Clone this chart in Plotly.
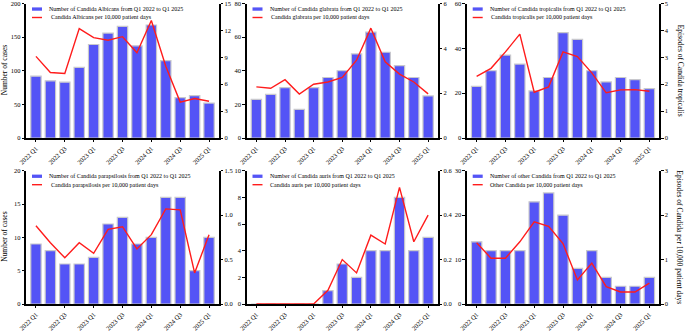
import plotly.graph_objects as go

# ---- data -------------------------------------------------------------
quarters = ["2022 Q1", "2022 Q2", "2022 Q3", "2022 Q4",
            "2023 Q1", "2023 Q2", "2023 Q3", "2023 Q4",
            "2024 Q1", "2024 Q2", "2024 Q3", "2024 Q4",
            "2025 Q1"]
labelled_quarters = ["2022 Q1", "2022 Q3", "2023 Q1", "2023 Q3",
                     "2024 Q1", "2024 Q3", "2025 Q1"]

albicans_cases = [92, 85, 83, 105, 139, 156, 166, 137, 168, 115, 60, 63, 52]
albicans_rate = [9.1, 7.3, 7.2, 12.2, 11.2, 10.9, 11.3, 9.5, 13.1, 8.0, 4.0, 4.4, 4.1]

glabrata_cases = [23, 26, 30, 17, 30, 36, 40, 50, 63, 51, 43, 36, 25]
glabrata_rate = [2.28, 2.22, 2.6, 1.96, 2.4, 2.5, 2.7, 3.47, 4.9, 3.4, 2.85, 2.5, 1.97]

tropicalis_cases = [23, 30, 37, 33, 21, 27, 47, 44, 30, 25, 27, 26, 22]
tropicalis_rate = [2.29, 2.59, 3.2, 3.86, 1.7, 1.9, 3.2, 3.03, 2.42, 1.68, 1.79, 1.8, 1.74]

parapsilosis_cases = [9, 8, 6, 6, 7, 12, 13, 9, 10, 16, 16, 5, 10]
parapsilosis_rate = [0.88, 0.69, 0.52, 0.69, 0.57, 0.84, 0.87, 0.62, 0.78, 1.07, 1.06, 0.35, 0.78]

auris_cases = [0, 0, 0, 0, 0, 1, 3, 2, 4, 4, 8, 4, 5]
auris_rate = [0, 0, 0, 0, 0, 0.062, 0.2, 0.14, 0.31, 0.27, 0.525, 0.28, 0.40]

other_cases = [14, 12, 12, 12, 23, 25, 20, 8, 12, 6, 4, 4, 6]
other_rate = [1.38, 1.03, 1.03, 1.4, 1.85, 1.75, 1.36, 0.54, 0.92, 0.39, 0.27, 0.27, 0.47]

bar_labels = [
    "Number of Candida Albicans from Q1 2022 to Q1 2025",
    "Number of Candida glabrata from Q1 2022 to Q1 2025",
    "Number of Candida tropicalis from Q1 2022 to Q1 2025",
    "Number of Candida parapsilosis from Q1 2022 to Q1 2025",
    "Number of Candida auris from Q1 2022 to Q1 2025",
    "Number of other Candida from Q1 2022 to Q1 2025",
]
line_labels = [
    "Candida Albicans per 10,000 patient days",
    "Candida glabrata per 10,000 patient days",
    "Candida tropicalis per 10,000 patient days",
    "Candida parapsilosis per 10,000 patient days",
    "Candida auris per 10,000 patient days",
    "Other Candida per 10,000 patient days",
]
case_series = [albicans_cases, glabrata_cases, tropicalis_cases,
               parapsilosis_cases, auris_cases, other_cases]
rate_series = [albicans_rate, glabrata_rate, tropicalis_rate,
               parapsilosis_rate, auris_rate, other_rate]

# left axis (cases) and right axis (rate) scales
left_max = [200, 80, 60, 20, 10, 30]
left_step = [50, 20, 20, 5, 2, 10]
right_max = [15, 6, 5, 1.5, 0.6, 3]
right_step = [3, 2, 1, 0.5, 0.2, 1]
right_fmt = ["d", "d", "d", ".1f", ".1f", "d"]

left_title = "Number of cases"
right_titles = {2: "Episodes of Candida tropicalis",
                5: "Episodes of Candida per 10,000 patient days"}

# ---- styling / layout -------------------------------------------------
W, H = 685, 331
FONT = "Liberation Serif, Times New Roman, serif"
BAR_FILL = "rgb(84,84,246)"
BAR_EDGE = "rgb(200,200,205)"
LINE_RED = "rgb(255,28,28)"

col_px = [(26, 219), (246.5, 438), (466.7, 659.3)]
row_px = [(3.5, 138), (170.7, 304)]

fig = go.Figure()
layout = dict(
    width=W, height=H, autosize=False,
    margin=dict(l=0, r=0, t=0, b=0, pad=0),
    paper_bgcolor="white", plot_bgcolor="white",
    template="none", showlegend=False, bargap=0.28,
    font=dict(family=FONT, color="black", size=7),
)
shapes, annotations = [], []

for i in range(6):
    r, c = divmod(i, 3)
    x0p, x1p = col_px[c]
    y0p, y1p = row_px[r]
    pw, ph = x1p - x0p, y1p - y0p

    xn = "" if i == 0 else str(i + 1)
    ln = "" if i == 0 else str(2 * i + 1)
    rn = str(2 * i + 2)
    xref, lref, rref = "x" + xn, "y" + ln, "y" + rn

    fig.add_trace(go.Bar(
        x=quarters, y=case_series[i], name=bar_labels[i],
        xaxis=xref, yaxis=lref, width=0.72,
        marker=dict(color=BAR_FILL, line=dict(color=BAR_EDGE, width=1.2)),
    ))
    fig.add_trace(go.Scatter(
        x=quarters, y=rate_series[i], name=line_labels[i],
        xaxis=xref, yaxis=rref, mode="lines",
        line=dict(color=LINE_RED, width=1.4),
    ))

    axis_common = dict(showgrid=False, zeroline=False, showline=True,
                       linecolor="black", linewidth=1.5, ticks="outside",
                       ticklen=2.5, tickwidth=1, tickcolor="black",
                       automargin=False, ticklabeloverflow="allow")
    layout["xaxis" + xn] = dict(
        axis_common, domain=[x0p / W, x1p / W], anchor=lref,
        type="category", range=[-0.69, 12.69],
        tickmode="array", tickvals=labelled_quarters, ticktext=labelled_quarters,
        tickangle=-45, tickfont=dict(size=6.5, family=FONT),
    )
    layout["yaxis" + ln] = dict(
        axis_common, domain=[1 - y1p / H, 1 - y0p / H], anchor=xref,
        range=[0, left_max[i]], dtick=left_step[i], tick0=0,
        tickfont=dict(size=6.5, family=FONT),
    )
    layout["yaxis" + rn] = dict(
        axis_common, overlaying=lref, side="right", anchor=xref,
        range=[0, right_max[i]], dtick=right_step[i], tick0=0,
        tickformat=right_fmt[i], tickfont=dict(size=6.5, family=FONT),
    )

    # in-plot key: bar swatch + line swatch with their labels
    dx = lambda px: px / pw
    dy = lambda px: 1 - px / ph
    xd, yd = xref + " domain", lref + " domain"
    shapes.append(dict(type="rect", xref=xd, yref=yd,
                       x0=dx(6), x1=dx(16), y0=dy(7.2), y1=dy(3.9),
                       fillcolor=BAR_FILL, line=dict(width=0)))
    shapes.append(dict(type="line", xref=xd, yref=yd,
                       x0=dx(6), x1=dx(16), y0=dy(14), y1=dy(14),
                       line=dict(color=LINE_RED, width=1.4)))
    shift2 = 1.7 if i < 4 else 0
    annotations.append(dict(xref=xd, yref=yd, x=dx(21), y=dy(5.5),
                            text=bar_labels[i], showarrow=False,
                            xanchor="left", yanchor="middle",
                            font=dict(size=6, family=FONT)))
    annotations.append(dict(xref=xd, yref=yd, x=dx(21 + shift2), y=dy(14),
                            text=line_labels[i], showarrow=False,
                            xanchor="left", yanchor="middle",
                            font=dict(size=6, family=FONT)))

    ymid = 1 - (y0p + y1p) / 2 / H
    if c == 0:
        annotations.append(dict(xref="paper", yref="paper", x=4.5 / W, y=ymid,
                                text=left_title, showarrow=False, textangle=-90,
                                xanchor="center", yanchor="middle",
                                font=dict(size=7.5, family=FONT)))
    if i in right_titles:
        annotations.append(dict(xref="paper", yref="paper", x=680 / W, y=ymid,
                                text=right_titles[i], showarrow=False, textangle=90,
                                xanchor="center", yanchor="middle",
                                font=dict(size=7.5, family=FONT)))

layout["shapes"] = shapes
layout["annotations"] = annotations
fig.update_layout(**layout)
fig.write_html("out.html")
